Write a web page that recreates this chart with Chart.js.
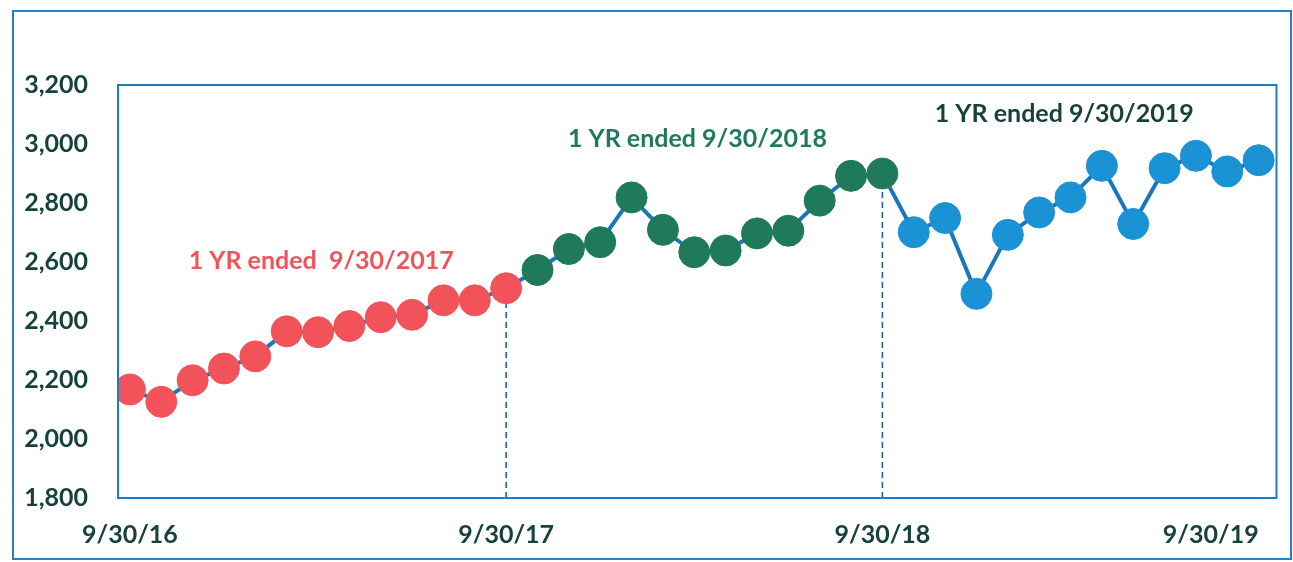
<!DOCTYPE html>
<html>
<head>
<meta charset="utf-8">
<script src="https://cdn.jsdelivr.net/npm/chart.js@4/dist/chart.umd.min.js"></script>
<style>
  html, body { margin: 0; padding: 0; background: #fff; }
  #wrap { position: relative; width: 1293px; height: 562px; }
  #frame {
    position: absolute; left: 12px; top: 10px; width: 1276px; height: 546px;
    border: 2px solid #2a80c4; pointer-events: none;
  }
</style>
</head>
<body>
<div id="wrap">
  <canvas id="chart" width="1293" height="562"></canvas>
  <div id="frame"></div>
</div>
<script>
// month-end values, 9/30/16 .. 9/30/19
let yr2017 = [2168, 2126, 2199, 2239, 2280, 2365, 2362, 2383, 2413, 2421, 2470, 2470, 2511];
let yr2018 = [2573, 2644, 2667, 2819, 2709, 2633, 2639, 2697, 2706, 2808, 2892, 2900];
let yr2019 = [2701, 2749, 2492, 2692, 2768, 2819, 2926, 2729, 2918, 2960, 2907, 2945];

let tickLabels = ["9/30/16", "9/30/17", "9/30/18", "9/30/19"];
let tickIndex = [0, 12, 24, 36];

let notes = ["1 YR ended  9/30/2017", "1 YR ended 9/30/2018", "1 YR ended 9/30/2019"];

let colRed = "#f2535b";
let colGreen = "#1f7a5a";
let colBlue = "#1b92d3";
let lineBlue = "#1877bc";
let textDark = "#17423b";

let valores = yr2017.concat(yr2018, yr2019);
let puntos = valores.map((v, i) => ({ x: i, y: v }));
let colores = valores.map((v, i) =>
  i < yr2017.length ? colRed : i < yr2017.length + yr2018.length ? colGreen : colBlue
);

const dashed = (idx) => ({
  data: [{ x: idx, y: 1800 }, { x: idx, y: valores[idx] }],
  borderColor: "#1a5fa8",
  borderWidth: 1.6,
  borderDash: [6, 4],
  pointRadius: 0,
  fill: false,
});

const marcoPlugin = {
  id: "marco",
  afterDraw(chart) {
    const { ctx, chartArea: a, scales } = chart;
    ctx.save();
    ctx.strokeStyle = "#1f7cc0";
    ctx.lineWidth = 2;
    ctx.strokeRect(a.left, a.top, a.right - a.left, a.bottom - a.top);

    ctx.font = "bold 25px Lato";
    ctx.textAlign = "center";
    ctx.textBaseline = "middle";
    const pos = [
      { x: 6.1, y: 2605, c: colRed },
      { x: 18.1, y: 3018, c: colGreen },
      { x: 29.8, y: 3102, c: textDark },
    ];
    pos.forEach((p, i) => {
      ctx.fillStyle = p.c;
      ctx.fillText(notes[i], scales.x.getPixelForValue(p.x), scales.y.getPixelForValue(p.y));
    });
    ctx.restore();
  },
};

new Chart("chart", {
  type: "line",
  data: {
    datasets: [
      {
        data: puntos,
        borderColor: lineBlue,
        borderWidth: 4,
        pointRadius: 15.5,
        pointBackgroundColor: colores,
        pointBorderColor: colores,
        pointBorderWidth: 1,
        fill: false,
        tension: 0,
      },
      dashed(12),
      dashed(24),
    ],
  },
  options: {
    responsive: false,
    animation: false,
    layout: { padding: { top: 85, right: 13, left: 0, bottom: 0 } },
    plugins: { legend: { display: false }, tooltip: { enabled: false } },
    scales: {
      x: {
        type: "linear",
        min: -0.38,
        max: 36.57,
        grid: { display: false },
        border: { display: false },
        afterBuildTicks: (scale) => {
          scale.ticks = [{ value: -0.38 }].concat(tickIndex.map((v) => ({ value: v })));
        },
        afterFit: (scale) => { scale.height = 64; },
        ticks: {
          autoSkip: false,
          maxRotation: 0,
          align: "inner",
          padding: 14,
          color: textDark,
          font: { family: "Lato", size: 25, weight: "bold" },
          callback: (v) => {
            let i = tickIndex.indexOf(v);
            return i >= 0 ? tickLabels[i] : "";
          },
        },
      },
      y: {
        min: 1800,
        max: 3200,
        grid: { display: false, drawTicks: false },
        border: { display: false },
        afterFit: (scale) => { scale.width = 118; },
        ticks: {
          stepSize: 200,
          padding: 30,
          color: textDark,
          font: { family: "Lato", size: 25, weight: "bold" },
          callback: (v) => v.toLocaleString("en-US"),
        },
      },
    },
  },
  plugins: [marcoPlugin],
});
</script>
</body>
</html>
